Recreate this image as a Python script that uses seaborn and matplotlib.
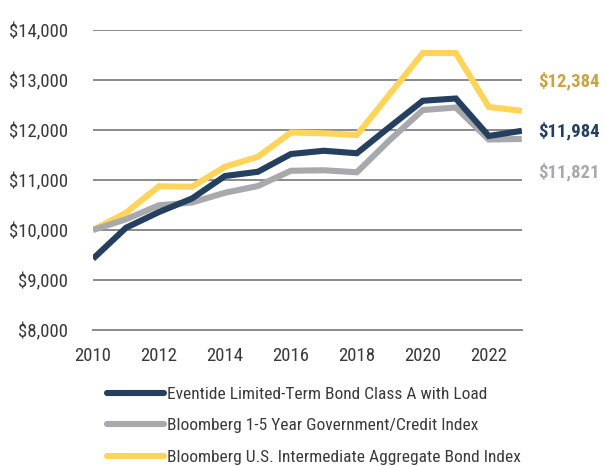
"""
Growth of $10,000: Eventide Limited-Term Bond vs. two Bloomberg indexes.
Saves out.png.
"""
import matplotlib.pyplot as plt
import pandas as pd
import seaborn as sns
from matplotlib.lines import Line2D

years = list(range(2010, 2024))

fund_name = "Eventide Limited-Term Bond Class A with Load"
short_name = "Bloomberg 1-5 Year Government/Credit Index"
agg_name = "Bloomberg U.S. Intermediate Aggregate Bond Index"

fund_values = [9425, 10045, 10360, 10630, 11080, 11165, 11520, 11585, 11535,
               12065, 12585, 12630, 11880, 11984]
short_values = [10000, 10215, 10495, 10550, 10745, 10880, 11185, 11195, 11155,
                11800, 12400, 12450, 11810, 11821]
agg_values = [10000, 10345, 10875, 10865, 11265, 11465, 11950, 11935, 11900,
              12720, 13540, 13540, 12460, 12384]

end_labels = ["$11,984", "$11,821", "$12,384"]

NAVY = "#253f5f"
GRAY = "#a7a9ac"
YELLOW = "#ffd45a"
GOLD = "#c7a445"

series = {fund_name: fund_values, short_name: short_values, agg_name: agg_values}
frames = [pd.DataFrame({"year": years, "value": v, "series": k}) for k, v in series.items()]
df = pd.concat(frames, ignore_index=True)

# draw order: yellow at back, then gray, navy on top
hue_order = [agg_name, short_name, fund_name]
palette = {fund_name: NAVY, short_name: GRAY, agg_name: YELLOW}

sns.set_style("white")
plt.rcParams["font.family"] = ["Roboto Condensed", "DejaVu Sans"]

fig = plt.figure(figsize=(6.06, 4.66), dpi=100)
ax = fig.add_axes([0.1535, 0.2918, 0.7075, 0.6438])

sns.lineplot(data=df, x="year", y="value", hue="series", hue_order=hue_order,
             palette=palette, linewidth=4.4, legend=False, ax=ax,
             solid_joinstyle="miter", solid_capstyle="butt")

ax.set_xlim(2010, 2023)
ax.set_ylim(8000, 14000)
ax.set_xlabel("")
ax.set_ylabel("")

ax.set_yticks(range(8000, 14001, 1000))
ax.set_yticklabels([f"${v:,}" for v in range(8000, 14001, 1000)])
ax.set_xticks(years)
ax.set_xticklabels([str(y) if y % 2 == 0 else "" for y in years])

for y in range(9000, 14001, 1000):
    ax.axhline(y, color="#8a8a8a", lw=1.4, zorder=0)

for side in ["top", "right", "left"]:
    ax.spines[side].set_visible(False)
ax.spines["bottom"].set_color("#8a8a8a")
ax.spines["bottom"].set_linewidth(1.4)

ax.tick_params(axis="x", direction="in", length=5, width=1.4, color="#8a8a8a",
               pad=12, labelsize=13.5, labelcolor="#3a3a3a")
ax.tick_params(axis="y", length=0, pad=18, labelsize=13.5, labelcolor="#3a3a3a")

# end-of-line value labels
end_vals = [fund_values[-1], short_values[-1], agg_values[-1]]
end_colors = [NAVY, GRAY, GOLD]
end_offsets = [-3, -665, 590]
for lab, v, c, off in zip(end_labels, end_vals, end_colors, end_offsets):
    ax.annotate(lab, xy=(2023, v + off), xytext=(12, 0), textcoords="offset points",
                color=c, fontsize=13.5, fontweight="bold", va="center",
                annotation_clip=False)

handles = [Line2D([], [], color=palette[n], lw=4.4, solid_capstyle="round")
           for n in [fund_name, short_name, agg_name]]
fig.legend(handles, [fund_name, short_name, agg_name], loc="upper left",
           bbox_to_anchor=(0.165, 0.184), frameon=False, fontsize=12.5,
           handlelength=3.3, handletextpad=0.18, labelspacing=0.92,
           borderaxespad=0, labelcolor="#3a3a3a")

fig.savefig("out.png", dpi=100)
